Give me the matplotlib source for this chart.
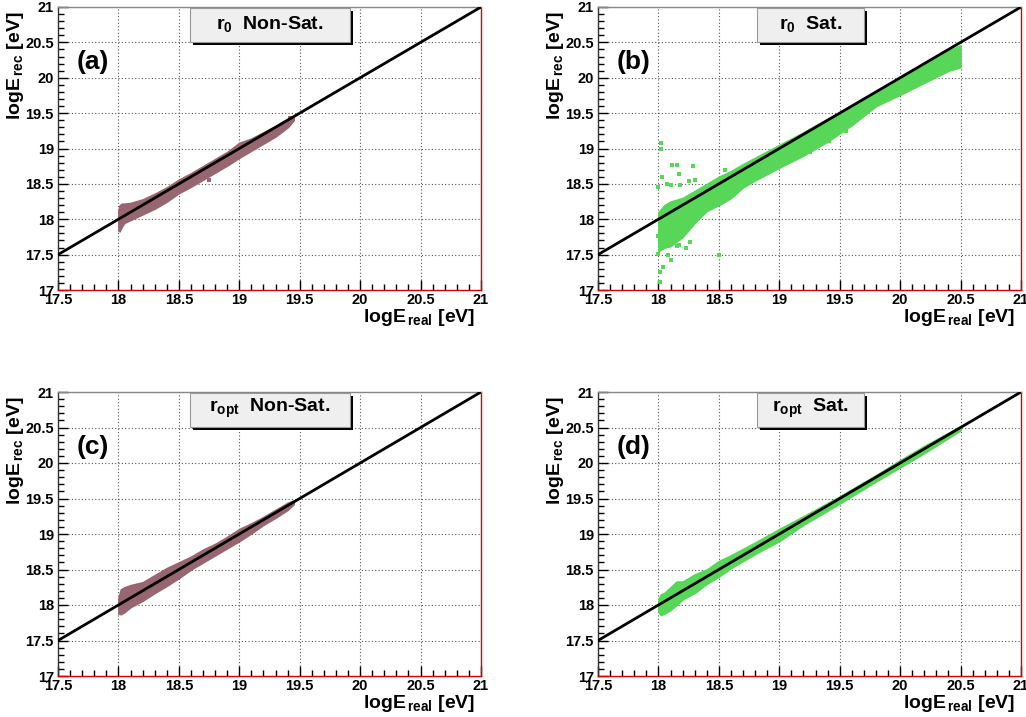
import matplotlib
matplotlib.use("Agg")
import matplotlib.pyplot as plt
from matplotlib.patches import Rectangle
from matplotlib.ticker import MultipleLocator, FuncFormatter

plt.rcParams['font.family'] = ['Liberation Sans', 'DejaVu Sans']
plt.rcParams['font.weight'] = 'bold'
plt.rcParams['mathtext.fontset'] = 'custom'
plt.rcParams['mathtext.rm'] = 'Liberation Sans:bold'
plt.rcParams['mathtext.bf'] = 'Liberation Sans:bold'
plt.rcParams['mathtext.it'] = 'Liberation Sans:bold'

# ---------------- data ----------------
DIAG = [17.5, 21.0]

# (a) r0 Non-Sat. band edges
A_x  = [18.0, 18.01, 18.03, 18.05, 18.1, 18.2, 18.3, 18.4, 18.5, 18.6, 18.7, 18.8, 18.9, 19.0, 19.1, 19.2, 19.3, 19.4, 19.45]
A_lo = [17.84, 17.83, 17.9, 17.95, 17.99, 18.07, 18.15, 18.25, 18.37, 18.46, 18.56, 18.66, 18.76, 18.87, 18.97, 19.07, 19.17, 19.3, 19.4]
A_hi = [18.12, 18.2, 18.22, 18.22, 18.23, 18.28, 18.36, 18.45, 18.56, 18.65, 18.75, 18.85, 18.95, 19.08, 19.14, 19.23, 19.32, 19.42, 19.46]
A_out_x = [18.75, 19.27, 19.42]
A_out_y = [18.56, 19.18, 19.43]

# (b) r0 Sat. band edges
B_x  = [18.0, 18.05, 18.1, 18.2, 18.3, 18.4, 18.5, 18.6, 18.7, 18.8, 18.9, 19.0, 19.2, 19.4, 19.6, 19.8, 20.0, 20.2, 20.4, 20.5]
B_lo = [17.55, 17.6, 17.62, 17.75, 17.95, 18.12, 18.2, 18.3, 18.45, 18.55, 18.64, 18.73, 18.9, 19.1, 19.33, 19.6, 19.76, 19.93, 20.1, 20.15]
B_hi = [18.1, 18.2, 18.25, 18.3, 18.4, 18.5, 18.6, 18.68, 18.78, 18.87, 18.96, 19.05, 19.23, 19.42, 19.6, 19.8, 20.0, 20.18, 20.38, 20.46]
B_out_x = [18.02, 18.02, 18.11, 18.15, 18.29, 18.17, 18.03, 18.0, 18.07, 18.1, 18.18, 18.25, 18.3, 18.55,
           18.5, 18.01, 18.01, 18.04, 18.0, 18.1, 18.08, 18.15, 18.26, 18.23, 18.17, 18.0, 18.03,
           19.41, 19.55, 19.25]
B_out_y = [19.08, 19.0, 18.76, 18.76, 18.75, 18.64, 18.6, 18.45, 18.5, 18.49, 18.49, 18.54, 18.55, 18.7,
           17.49, 17.11, 17.25, 17.32, 17.51, 17.43, 17.5, 17.62, 17.68, 17.59, 17.63, 17.76, 17.69,
           19.1, 19.25, 18.95]

# (c) r_opt Non-Sat. band edges
C_x  = [18.0, 18.02, 18.05, 18.1, 18.2, 18.3, 18.4, 18.5, 18.6, 18.7, 18.8, 18.9, 19.0, 19.1, 19.2, 19.3, 19.4, 19.45]
C_lo = [17.88, 17.87, 17.9, 17.97, 18.06, 18.17, 18.27, 18.38, 18.5, 18.6, 18.7, 18.8, 18.9, 19.01, 19.13, 19.23, 19.34, 19.42]
C_hi = [18.1, 18.22, 18.25, 18.28, 18.32, 18.42, 18.52, 18.6, 18.68, 18.78, 18.86, 18.96, 19.07, 19.15, 19.24, 19.34, 19.44, 19.47]

# (d) r_opt Sat. band edges
D_x  = [18.0, 18.02, 18.05, 18.1, 18.15, 18.2, 18.3, 18.4, 18.5, 18.6, 18.8, 19.0, 19.2, 19.5, 19.8, 20.0, 20.2, 20.5]
D_lo = [17.9, 17.86, 17.88, 17.93, 18.0, 18.08, 18.17, 18.3, 18.4, 18.52, 18.72, 18.9, 19.13, 19.43, 19.74, 19.94, 20.14, 20.46]
D_hi = [18.08, 18.15, 18.17, 18.25, 18.33, 18.33, 18.43, 18.5, 18.62, 18.7, 18.88, 19.07, 19.25, 19.53, 19.83, 20.04, 20.24, 20.52]

BROWN = '#986670'
GREEN = '#57d657'

panels = [
    dict(x=A_x, lo=A_lo, hi=A_hi, ox=A_out_x, oy=A_out_y, color=BROWN, letter='(a)',
         title=r'r$_{0}$  Non-Sat.', box=(0.312, 0.690)),
    dict(x=B_x, lo=B_lo, hi=B_hi, ox=B_out_x, oy=B_out_y, color=GREEN, letter='(b)',
         title=r'r$_{0}$  Sat.', box=(0.376, 0.629)),
    dict(x=C_x, lo=C_lo, hi=C_hi, ox=[], oy=[], color=BROWN, letter='(c)',
         title=r'r$_{\mathrm{opt}}$  Non-Sat.', box=(0.312, 0.690)),
    dict(x=D_x, lo=D_lo, hi=D_hi, ox=[], oy=[], color=GREEN, letter='(d)',
         title=r'r$_{\mathrm{opt}}$  Sat.', box=(0.376, 0.629)),
]

W, H = 1026, 717
fig = plt.figure(figsize=(W / 100, H / 100), dpi=100)

# axes rectangles in pixels: (left, top, right, bottom)
rects = [(58, 7, 481, 290), (598, 7, 1021, 290), (58, 392, 481, 676), (598, 392, 1021, 676)]

for p, (l, t, r, b) in zip(panels, rects):
    ax = fig.add_axes([l / W, 1 - b / H, (r - l) / W, (b - t) / H])
    ax.set_xlim(17.5, 21)
    ax.set_ylim(17, 21)
    ax.xaxis.set_major_locator(MultipleLocator(0.5))
    ax.yaxis.set_major_locator(MultipleLocator(0.5))
    ax.xaxis.set_minor_locator(MultipleLocator(0.1))
    ax.yaxis.set_minor_locator(MultipleLocator(0.1))
    ax.tick_params(which='both', direction='in', colors='black', labelsize=10.5)
    ax.tick_params(which='major', length=7, width=1)
    ax.tick_params(which='minor', length=4, width=1)
    ax.tick_params(axis='x', pad=2)
    ax.tick_params(axis='y', pad=3)
    ax.xaxis.set_major_formatter(FuncFormatter(lambda v, _: f'{v:g}'))
    ax.yaxis.set_major_formatter(FuncFormatter(lambda v, _: f'{v:g}'))
    ax.grid(True, which='major', color='#555555', linestyle=(0, (1, 2)), linewidth=0.8)
    ax.set_axisbelow(True)
    ax.spines['left'].set_color('#333333')
    ax.spines['top'].set_color('#888888')
    ax.spines['right'].set_color('#dd0000')
    ax.spines['bottom'].set_color('#dd0000')
    for s in ax.spines.values():
        s.set_linewidth(1.0)

    ax.fill_between(p['x'], p['lo'], p['hi'], color=p['color'], linewidth=1.2,
                    edgecolor=p['color'], zorder=2)
    if p['ox']:
        ax.scatter(p['ox'], p['oy'], marker='s', s=9, color=p['color'], linewidths=0, zorder=2)
    ax.plot(DIAG, DIAG, color='black', linewidth=2.0, zorder=3)

    # title box with shadow
    x0, x1 = p['box']
    y0, y1 = 0.877, 0.996
    ax.add_patch(Rectangle((x0 + 0.007, y0 - 0.010), x1 - x0, y1 - y0, transform=ax.transAxes,
                           facecolor='black', edgecolor='none', zorder=5, clip_on=False))
    ax.add_patch(Rectangle((x0, y0), x1 - x0, y1 - y0, transform=ax.transAxes,
                           facecolor='#efefef', edgecolor='#999999', linewidth=0.8, zorder=6,
                           clip_on=False))
    ax.text((x0 + x1) / 2, (y0 + y1) / 2 + 0.005, p['title'], transform=ax.transAxes,
            ha='center', va='center', fontsize=14, fontweight='bold', zorder=7)

    ax.text(0.045, 0.806, p['letter'], transform=ax.transAxes, ha='left', va='center',
            fontsize=19, fontweight='bold')

    # axis labels (ROOT style: aligned to axis ends)
    fig.text((l - 42) / W, 1 - (t + 4) / H, r'$\mathrm{logE}_{\,\mathrm{rec}}$ [eV]',
             rotation=90, ha='center', va='top', fontsize=14, fontweight='bold')
    fig.text((r - 6) / W, 1 - (b + 28) / H, r'$\mathrm{logE}_{\,\mathrm{real}}$ [eV]',
             ha='right', va='center', fontsize=14, fontweight='bold')

fig.savefig('out.png', dpi=100)
